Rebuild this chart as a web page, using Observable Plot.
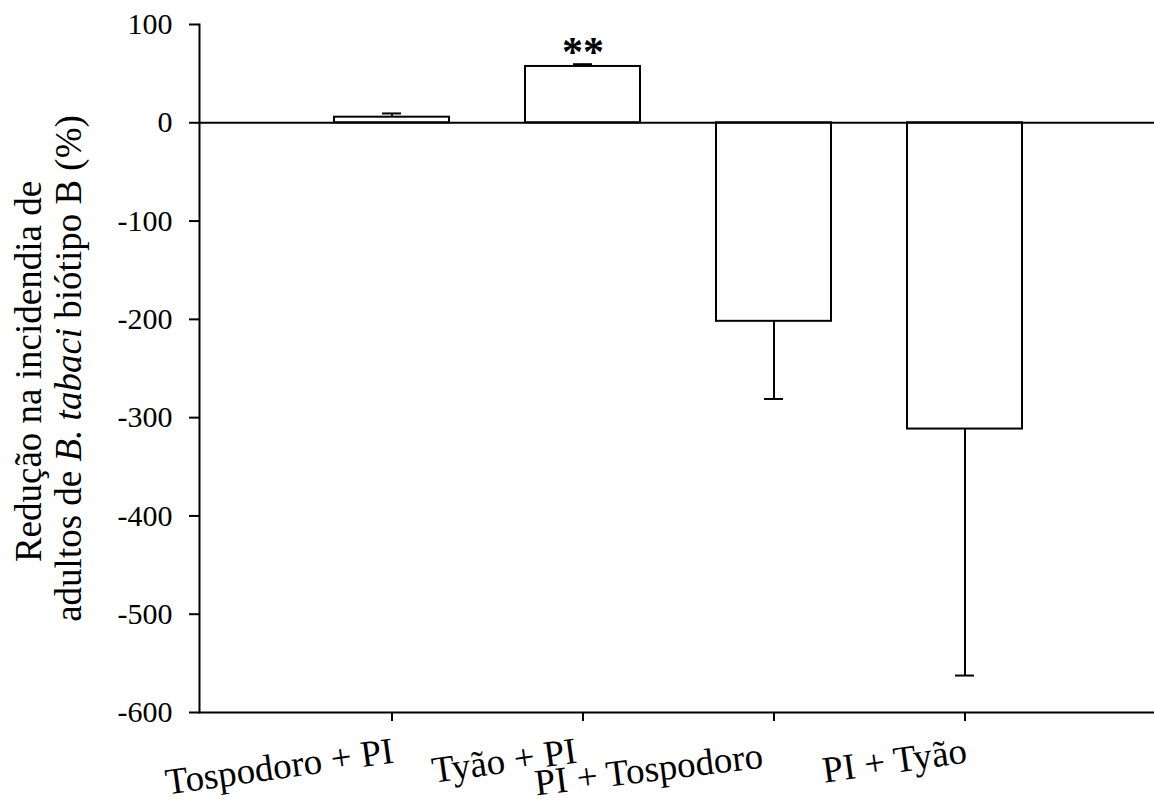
<!DOCTYPE html>
<html>
<head>
<meta charset="utf-8">
<script src="https://cdn.jsdelivr.net/npm/d3@7"></script>
<script src="https://cdn.jsdelivr.net/npm/@observablehq/plot@0.6"></script>
<style>
  html, body { margin: 0; padding: 0; background: #fff; }
  #chart svg { display: block; overflow: visible; }
</style>
</head>
<body>
<div id="chart"></div>
<script>
const categories = ["Tospodoro + PI", "Tyão + PI", "PI + Tospodoro", "PI + Tyão"];
const values = [5.7, 57.3, -202, -311.6];
const se = [3.8, 2.3, 79, 250.8];
const significance = ["", "**", "", ""];
const yTicks = [100, 0, -100, -200, -300, -400, -500, -600];
const yTitle1 = "Redução na incidendia de";
const yTitle2 = "adultos de B. tabaci biótipo B (%)";

const data = categories.map((c, i) => ({
  cat: c,
  value: values[i],
  end: values[i] + Math.sign(values[i]) * se[i],
  sig: significance[i]
}));

const serif = "'Liberation Serif', 'Times New Roman', Times, serif";

// per-label placement of the rotated category labels (as in the reference)
const labelShift = [[3, 50, -8], [-5, 50, -8], [-10, 55, -7], [3, 50, -8]];
const labelMarks = data.map((d, i) =>
  Plot.text([d], { x: "cat", text: "cat", frameAnchor: "bottom", rotate: labelShift[i][2], textAnchor: "end", lineAnchor: "bottom",
    dx: labelShift[i][0], dy: labelShift[i][1], fontSize: 37, fill: "black" })
);

const plot = Plot.plot({
  width: 1154,
  height: 803,
  marginLeft: 199,
  marginRight: 0,
  marginTop: 24,
  marginBottom: 91,
  style: { fontFamily: serif, color: "black", background: "white", overflow: "visible" },
  x: { type: "band", domain: categories, range: [294.75, 1060.75], paddingInner: 0.4, paddingOuter: 0.2 },
  y: { domain: [-600, 100] },
  marks: [
    Plot.ruleX(data, { x: "cat", y1: "value", y2: "end", stroke: "black", strokeWidth: 2 }),
    Plot.tickY(data, { x: "cat", y: "end", stroke: "black", strokeWidth: 2, insetLeft: 48, insetRight: 48 }),
    Plot.barY(data, { x: "cat", y1: 0, y2: "value", fill: "white", stroke: "black", strokeWidth: 2 }),
    Plot.ruleY([0], { stroke: "black", strokeWidth: 2 }),
    Plot.ruleY([-600], { stroke: "black", strokeWidth: 2 }),
    Plot.frame({ anchor: "left", stroke: "black", strokeWidth: 2 }),
    Plot.axisY({ ticks: yTicks, tickSize: 10, tickPadding: 17, tickFormat: d => String(d), fontSize: 30, strokeWidth: 2, label: null, fill: "black" }),
    Plot.axisX({ tickSize: 9, tickFormat: () => "", strokeWidth: 2, label: null }),
    ...labelMarks,
    Plot.text(data.filter(d => d.sig), { x: "cat", y: "end", text: "sig", lineAnchor: "bottom", dy: 2, fontSize: 42, fontWeight: "bold", fill: "black" }),
    Plot.text([yTitle1], { frameAnchor: "left", rotate: -90, textAnchor: "middle", lineAnchor: "bottom", dx: -159, dy: 3, fontSize: 37, fill: "black" }),
    Plot.text([yTitle2], { frameAnchor: "left", rotate: -90, textAnchor: "middle", lineAnchor: "bottom", dx: -119, dy: 0, fontSize: 37, fill: "black" })
  ]
});

document.getElementById("chart").appendChild(plot);

// italicize the species name in the axis title
plot.querySelectorAll("text").forEach(t => {
  if (t.textContent === yTitle2) {
    const target = t.querySelector("tspan") || t;
    target.textContent = "";
    const parts = [["adultos de ", false], ["B. tabaci", true], [" biótipo B (%)", false]];
    for (const [s, it] of parts) {
      const ts = document.createElementNS("http://www.w3.org/2000/svg", "tspan");
      if (it) ts.setAttribute("font-style", "italic");
      ts.textContent = s;
      target.appendChild(ts);
    }
  }
});
</script>
</body>
</html>
